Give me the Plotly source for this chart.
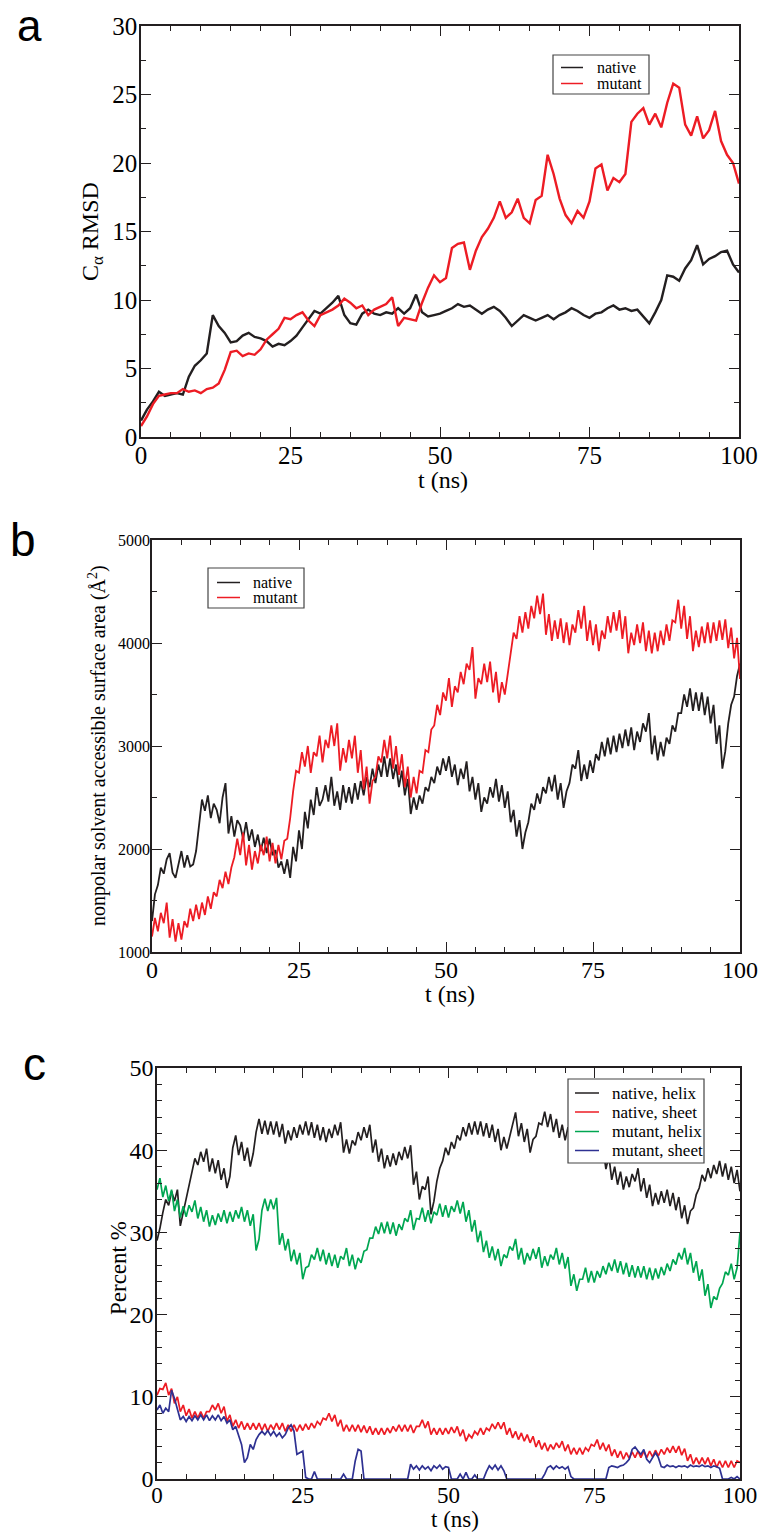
import plotly.graph_objects as go

# ---------------- data ----------------
# Panel a: C-alpha RMSD, 1 ns sampling (t = 0..100)
t_a = [i * 1.0 for i in range(101)]
native_rmsd = [
    1.2, 2.0, 2.6, 3.3, 3.0, 3.1, 3.2, 3.1, 4.4, 5.2,
    5.6, 6.1, 8.9, 8.1, 7.6, 6.9, 7.0, 7.4, 7.6, 7.3,
    7.2, 7.0, 6.6, 6.8, 6.7, 7.0, 7.4, 8.0, 8.6, 9.2,
    9.0, 9.4, 9.8, 10.3, 8.9, 8.3, 8.2, 9.0, 9.3, 9.0,
    8.9, 9.1, 9.0, 9.4, 9.0, 9.4, 10.4, 9.1, 8.8, 8.9,
    9.0, 9.2, 9.4, 9.7, 9.5, 9.6, 9.3, 9.0, 9.3, 9.5,
    9.2, 8.7, 8.1, 8.5, 8.9, 8.7, 8.5, 8.7, 8.9, 8.6,
    8.9, 9.1, 9.4, 9.2, 8.9, 8.7, 9.0, 9.1, 9.4, 9.6,
    9.3, 9.4, 9.2, 9.3, 8.8, 8.3, 9.1, 10.0, 11.8, 11.7,
    11.4, 12.3, 12.9, 14.0, 12.6, 13.0, 13.2, 13.5, 13.6, 12.6,
    12.0]
mutant_rmsd = [
    0.8, 1.5, 2.4, 3.0, 3.1, 3.2, 3.2, 3.5, 3.3, 3.4,
    3.2, 3.5, 3.6, 3.9, 4.9, 6.2, 6.3, 5.9, 6.1, 6.0,
    6.4, 7.1, 7.5, 7.9, 8.7, 8.6, 8.9, 9.1, 8.5, 8.1,
    8.9, 9.1, 9.3, 9.6, 10.1, 9.8, 9.4, 9.6, 8.9, 9.3,
    9.5, 9.7, 10.2, 8.1, 8.7, 8.6, 8.5, 9.8, 10.9, 11.8,
    11.3, 11.6, 13.8, 14.1, 14.2, 12.2, 13.6, 14.6, 15.2, 16.0,
    17.2, 16.0, 16.4, 17.4, 16.0, 15.6, 17.3, 17.6, 20.6, 19.2,
    17.4, 16.2, 15.6, 16.5, 16.0, 17.2, 19.6, 19.9, 18.0, 18.9,
    18.6, 19.2, 23.0, 23.6, 24.0, 22.8, 23.6, 22.6, 24.4, 25.8,
    25.5, 22.8, 22.0, 23.4, 21.8, 22.4, 23.8, 21.6, 20.6, 20.0,
    18.5]

# Panels b and c: 0.5 ns sampling (t = 0..100)
t_bc = [i * 0.5 for i in range(201)]
native_sasa = [
    1300, 1560, 1650, 1820, 1760, 1900, 1960, 1770, 1720, 1850,
    1980, 1820, 1940, 1830, 1850, 1980, 2250, 2480, 2370, 2520,
    2300, 2440, 2380, 2250, 2500, 2640, 2150, 2320, 2120, 2280,
    2230, 2100, 2260, 2080, 2190, 2020, 2140, 1980, 2110, 1960,
    2100, 1940, 1990, 1820, 1880, 1760, 1900, 1720, 2020, 1880,
    2180, 2000, 2360, 2200, 2480, 2330, 2600, 2420, 2480, 2620,
    2460, 2700, 2420, 2560, 2380, 2620, 2450, 2600, 2440, 2640,
    2480, 2660, 2520, 2700, 2600, 2780, 2640, 2820, 2700, 2900,
    2700, 2880, 2680, 2820, 2600, 2760, 2520, 2680, 2340, 2500,
    2380, 2520, 2440, 2600, 2560, 2700, 2640, 2800, 2720, 2880,
    2760, 2900, 2700, 2820, 2620, 2780, 2680, 2850, 2560, 2700,
    2480, 2640, 2360, 2500, 2440, 2600, 2500, 2680, 2460, 2620,
    2400, 2560, 2260, 2380, 2120, 2280, 2000, 2160, 2260, 2440,
    2380, 2540, 2440, 2600, 2540, 2700, 2560, 2720, 2480, 2640,
    2400, 2560, 2640, 2820, 2780, 2960, 2660, 2820, 2680, 2860,
    2740, 2920, 2860, 3040, 2900, 3080, 2920, 3100, 2940, 3120,
    2980, 3160, 3000, 3180, 2960, 3140, 3040, 3220, 3140, 3320,
    2920, 3100, 2860, 3040, 2900, 3080, 3020, 3200, 3140, 3320,
    3320, 3500, 3380, 3560, 3340, 3520, 3340, 3520, 3300, 3480,
    3220, 3400, 3020, 3200, 2780, 2950, 3220, 3400, 3480, 3680,
    3800]
mutant_sasa = [
    1150, 1330, 1200, 1380, 1280, 1480, 1140, 1320, 1100, 1280,
    1120, 1300, 1240, 1420, 1300, 1460, 1320, 1480, 1360, 1540,
    1420, 1580, 1540, 1700, 1620, 1780, 1660, 1820, 1920, 2100,
    1940, 2160, 1840, 2040, 1800, 1980, 1860, 2040, 1940, 2120,
    1880, 2060, 1860, 2040, 1900, 2080, 2100, 2300, 2560, 2760,
    2740, 2940, 2800, 3000, 2740, 2940, 2900, 3100, 2840, 3060,
    2980, 3200, 3000, 3220, 2760, 2980, 2840, 3060, 2880, 3100,
    2740, 2960, 2580, 2800, 2440, 2660, 2700, 2900, 2840, 3060,
    2880, 3100, 2780, 3000, 2720, 2920, 2600, 2800, 2500, 2700,
    2540, 2760, 2740, 2960, 2940, 3160, 3200, 3400, 3300, 3520,
    3440, 3660, 3380, 3580, 3520, 3720, 3600, 3800, 3740, 3960,
    3460, 3660, 3600, 3800, 3620, 3820, 3520, 3720, 3420, 3620,
    3500, 3700, 3900, 4100, 4040, 4260, 4100, 4300, 4140, 4360,
    4240, 4460, 4280, 4480, 4080, 4280, 4020, 4220, 4040, 4240,
    4000, 4200, 3980, 4180, 4100, 4320, 4140, 4360, 4020, 4220,
    3980, 4180, 3920, 4120, 4040, 4260, 4100, 4300, 4120, 4320,
    4040, 4260, 3900, 4100, 3980, 4180, 4000, 4200, 3920, 4120,
    3900, 4100, 3920, 4120, 3980, 4180, 4020, 4220, 4200, 4420,
    4140, 4360, 4040, 4260, 3920, 4120, 3960, 4160, 4000, 4200,
    4000, 4200, 4020, 4220, 4030, 4230, 3950, 4150, 3850, 4050,
    3650]
native_helix = [
    29.0, 30.5, 32.4, 34.0, 33.3, 35.0, 33.8, 35.2, 30.8, 32.4,
    34.4, 36.0, 37.4, 39.0, 38.2, 39.8, 38.6, 40.2, 37.4, 39.0,
    37.2, 38.8, 36.4, 37.8, 35.4, 36.8, 40.3, 41.8, 39.4, 41.0,
    38.7, 40.3, 38.0, 39.6, 42.2, 43.8, 42.0, 43.6, 41.9, 43.5,
    41.9, 43.5, 41.6, 43.2, 40.8, 42.4, 41.2, 42.8, 41.5, 43.1,
    41.9, 43.5, 41.8, 43.4, 41.5, 43.1, 41.2, 42.8, 41.0, 42.6,
    41.5, 43.1, 41.8, 43.4, 39.7, 41.3, 39.6, 41.2, 40.6, 42.2,
    41.2, 42.8, 41.5, 43.1, 39.7, 41.3, 38.6, 40.2, 37.8, 39.4,
    38.0, 39.6, 38.2, 39.8, 38.8, 40.4, 39.0, 40.6, 35.8, 37.4,
    34.0, 35.6, 35.2, 36.8, 32.2, 33.8, 36.2, 37.8, 38.7, 40.3,
    39.4, 41.0, 40.2, 41.8, 41.2, 42.8, 41.7, 43.3, 41.9, 43.5,
    41.9, 43.5, 41.7, 43.3, 41.5, 43.1, 41.0, 42.6, 40.0, 41.6,
    40.2, 41.8, 43.0, 44.6, 41.7, 43.3, 41.0, 42.6, 39.7, 41.3,
    41.7, 43.3, 43.1, 44.7, 42.8, 44.4, 42.2, 43.8, 41.5, 43.1,
    41.2, 42.8, 40.7, 42.3, 40.2, 41.8, 39.7, 41.3, 39.2, 40.8,
    39.2, 40.8, 38.7, 40.3, 37.7, 39.3, 36.4, 38.0, 35.8, 37.4,
    35.2, 36.8, 35.5, 37.1, 36.2, 37.8, 35.0, 36.6, 34.2, 35.8,
    33.2, 34.8, 33.4, 35.0, 33.6, 35.2, 33.2, 34.8, 32.7, 34.3,
    31.7, 33.3, 31.0, 32.6, 33.0, 34.6, 35.4, 37.0, 36.2, 37.8,
    36.6, 38.2, 37.1, 38.7, 36.8, 38.4, 36.4, 38.0, 36.0, 37.6,
    35.0]
native_sheet = [
    10.2, 11.0, 10.9, 11.7, 10.2, 11.0, 9.2, 10.0, 8.2, 9.0,
    7.7, 8.5, 7.4, 8.2, 7.4, 8.2, 7.4, 8.2, 8.2, 9.0,
    8.4, 9.2, 8.0, 8.8, 7.0, 7.8, 6.4, 7.2, 6.2, 7.0,
    6.0, 6.8, 6.0, 6.8, 6.0, 6.8, 5.9, 6.7, 5.8, 6.6,
    6.0, 6.8, 6.0, 6.8, 5.8, 6.6, 5.8, 6.6, 5.8, 6.6,
    5.9, 6.7, 6.0, 6.8, 6.2, 7.0, 6.6, 7.4, 7.2, 8.0,
    7.0, 7.8, 6.4, 7.2, 5.8, 6.6, 5.8, 6.6, 5.8, 6.6,
    5.7, 6.5, 5.6, 6.4, 5.4, 6.2, 5.4, 6.2, 5.4, 6.2,
    5.6, 6.4, 5.8, 6.6, 5.8, 6.6, 5.8, 6.6, 5.6, 6.4,
    6.4, 7.2, 6.2, 7.0, 5.4, 6.2, 5.4, 6.2, 5.4, 6.2,
    5.5, 6.3, 5.6, 6.4, 5.2, 6.0, 4.6, 5.4, 5.0, 5.8,
    5.4, 6.2, 5.4, 6.2, 5.9, 6.7, 6.1, 6.9, 6.1, 6.9,
    5.4, 6.2, 5.0, 5.8, 4.8, 5.6, 4.6, 5.4, 4.4, 5.2,
    3.9, 4.7, 3.6, 4.4, 3.4, 4.2, 3.6, 4.4, 3.8, 4.6,
    3.4, 4.2, 3.0, 3.8, 3.0, 3.8, 3.0, 3.8, 3.4, 4.2,
    4.0, 4.8, 3.6, 4.4, 3.4, 4.2, 2.8, 3.6, 2.6, 3.4,
    2.4, 3.2, 2.5, 3.3, 2.6, 3.4, 2.6, 3.4, 2.6, 3.4,
    2.7, 3.5, 2.8, 3.6, 3.0, 3.8, 3.2, 4.0, 3.2, 4.0,
    2.9, 3.7, 2.2, 3.0, 1.8, 2.6, 1.8, 2.6, 1.8, 2.6,
    1.6, 2.4, 1.4, 2.2, 1.4, 2.2, 1.4, 2.2, 1.4, 2.2,
    2.0]
mutant_helix = [
    35.2, 36.6, 34.3, 35.7, 33.8, 35.2, 32.6, 34.0, 31.8, 33.2,
    31.9, 33.3, 32.5, 33.9, 31.7, 33.1, 31.3, 32.7, 30.7, 32.1,
    30.9, 32.3, 31.3, 32.7, 31.1, 32.5, 31.3, 32.7, 31.7, 33.1,
    31.3, 32.7, 30.8, 32.2, 27.8, 29.2, 32.7, 34.1, 32.6, 34.0,
    32.8, 34.2, 28.5, 29.9, 27.8, 29.2, 26.5, 27.9, 26.1, 27.5,
    24.3, 25.7, 25.9, 27.3, 26.7, 28.1, 26.5, 27.9, 26.1, 27.5,
    25.9, 27.3, 25.7, 27.1, 26.7, 28.1, 25.9, 27.3, 25.5, 26.9,
    26.3, 27.7, 27.9, 29.3, 29.3, 30.7, 29.8, 31.2, 29.9, 31.3,
    29.8, 31.2, 29.6, 31.0, 30.3, 31.7, 31.3, 32.7, 30.3, 31.7,
    31.6, 33.0, 31.3, 32.7, 31.1, 32.5, 32.1, 33.5, 31.9, 33.3,
    31.8, 33.2, 32.5, 33.9, 32.3, 33.7, 31.3, 32.7, 30.1, 31.5,
    28.8, 30.2, 27.6, 29.0, 26.9, 28.3, 26.6, 28.0, 25.9, 27.3,
    26.9, 28.3, 27.8, 29.2, 26.7, 28.1, 26.1, 27.5, 26.6, 28.0,
    26.8, 28.2, 25.7, 27.1, 25.9, 27.3, 26.7, 28.1, 26.1, 27.5,
    25.6, 27.0, 23.5, 24.9, 22.9, 24.3, 24.3, 25.7, 23.9, 25.3,
    23.9, 25.3, 24.5, 25.9, 24.9, 26.3, 25.3, 26.7, 25.1, 26.5,
    24.9, 26.3, 24.6, 26.0, 24.5, 25.9, 24.5, 25.9, 24.3, 25.7,
    24.2, 25.6, 24.4, 25.8, 24.8, 26.2, 25.3, 26.7, 26.1, 27.5,
    26.7, 28.1, 26.1, 27.5, 25.1, 26.5, 24.1, 25.5, 22.3, 23.7,
    20.8, 22.2, 21.8, 23.2, 23.8, 25.2, 24.8, 26.2, 24.3, 25.7,
    30.0]
mutant_sheet = [
    8.4, 9.0, 8.0, 8.6, 8.2, 10.8, 9.8, 8.6, 7.2, 7.6,
    7.0, 7.6, 7.1, 7.7, 7.2, 7.8, 7.2, 7.8, 7.1, 7.7,
    7.2, 7.8, 7.1, 7.6, 6.8, 7.2, 6.0, 6.4, 5.4, 4.2,
    2.0, 2.6, 4.2, 3.6, 4.8, 5.4, 5.8, 5.4, 5.9, 5.3,
    5.8, 5.2, 5.6, 5.0, 5.4, 6.2, 6.6, 5.8, 3.0, 3.2,
    3.4, 0.2, 0.0, 0.0, 0.9, 0.0, 0.0, 0.0, 0.0, 0.0,
    0.0, 0.0, 0.0, 0.0, 0.6, 0.0, 0.0, 0.0, 2.2, 3.6,
    3.4, 0.0, 0.0, 0.0, 0.0, 0.0, 0.0, 0.0, 0.0, 0.0,
    0.0, 0.0, 0.0, 0.0, 0.0, 0.0, 0.0, 1.8, 1.2, 1.6,
    1.1, 1.6, 1.2, 1.5, 1.0, 1.6, 1.3, 1.7, 1.2, 1.5,
    1.4, 0.0, 0.0, 0.0, 0.6, 0.0, 0.8, 0.0, 0.0, 0.5,
    0.0, 0.0, 0.0, 0.9, 1.6, 1.2, 1.7, 1.1, 1.6, 1.0,
    0.0, 0.0, 0.0, 0.0, 0.0, 0.0, 0.0, 0.0, 0.0, 0.0,
    0.0, 0.0, 0.0, 0.6, 1.4, 1.6, 1.2, 1.6, 1.3, 1.5,
    1.2, 1.5, 0.3, 0.0, 0.0, 0.0, 0.0, 0.0, 0.0, 0.0,
    0.0, 0.0, 0.0, 0.0, 0.0, 1.4, 1.6, 1.5, 1.4, 1.6,
    1.7, 2.0, 2.4, 3.6, 3.9, 3.4, 3.0, 3.6, 2.4, 2.0,
    2.6, 3.2, 2.6, 1.5, 1.4, 1.7, 1.5, 1.6, 1.4, 1.6,
    1.5, 1.6, 1.4, 1.7, 1.5, 1.6, 1.5, 1.7, 1.5, 1.6,
    1.4, 1.6, 1.5, 1.3, 0.0, 0.0, 0.0, 0.2, 0.0, 0.3,
    0.0]

legend_a = ["native", "mutant"]
legend_b = ["native", "mutant"]
legend_c = ["native, helix", "native, sheet", "mutant, helix", "mutant, sheet"]

# ---------------- styling ----------------
# The page places the figure 8 px in from the top-left corner, so the figure is
# sized to fill the rest of the 767 x 1532 window.
OFF = 8
W, H = 767 - OFF, 1532 - OFF
BLACK = "#231f20"
RED = "#ed1c24"
GREEN = "#00a651"
BLUE = "#2e3192"
SERIF = "Liberation Serif"
SANS = "Liberation Sans"


def px(x):
    return (x - OFF) / W


def py(y):
    return 1 - (y - OFF) / H


fig = go.Figure()

panel_a = [(native_rmsd, BLACK), (mutant_rmsd, RED)]
for (vals, col), name in zip(panel_a, legend_a):
    fig.add_trace(go.Scatter(x=t_a, y=vals, mode="lines", name=name, showlegend=False,
                             line=dict(color=col, width=2.4), xaxis="x", yaxis="y"))

panel_b = [(native_sasa, BLACK), (mutant_sasa, RED)]
for (vals, col), name in zip(panel_b, legend_b):
    fig.add_trace(go.Scatter(x=t_bc, y=vals, mode="lines", name=name, showlegend=False,
                             line=dict(color=col, width=1.8), xaxis="x2", yaxis="y2"))

panel_c = [(native_helix, BLACK), (native_sheet, RED), (mutant_helix, GREEN), (mutant_sheet, BLUE)]
for (vals, col), name in zip(panel_c, legend_c):
    fig.add_trace(go.Scatter(x=t_bc, y=vals, mode="lines", name=name, showlegend=False,
                             line=dict(color=col, width=1.7), xaxis="x3", yaxis="y3"))


def axis(domain, rng, dtick, mdtick, anchor, fsize, letter):
    return dict(domain=domain, range=rng, dtick=dtick, tick0=rng[0], anchor=anchor,
                automargin=False,
                showline=True, linecolor=BLACK, linewidth=1.5, mirror="ticks",
                ticks="inside", ticklen=10, tickwidth=1.2, tickcolor=BLACK,
                ticklabelstandoff=-5 if letter == "x" else -3,
                minor=dict(dtick=mdtick, ticks="inside", ticklen=5, tickwidth=1.0,
                           tickcolor=BLACK, showgrid=False),
                showgrid=False, zeroline=False,
                tickfont=dict(family=SERIF, size=fsize, color="black"))


fig.update_layout(
    width=W, height=H,
    margin=dict(l=0, r=0, t=0, b=0, autoexpand=False),
    paper_bgcolor="white", plot_bgcolor="white",
    font=dict(family=SERIF, color="black"),
    showlegend=False,
    xaxis=axis([px(141), px(739)], [0, 100], 25, 5, "y", 25, "x"),
    yaxis=axis([py(437), py(26)], [0, 30], 5, 2.5, "x", 25, "y"),
    xaxis2=axis([px(152), px(740)], [0, 100], 25, 5, "y2", 24, "x"),
    yaxis2=axis([py(952), py(540)], [1000, 5000], 1000, 500, "x2", 16, "y"),
    xaxis3=axis([px(157), px(740)], [0, 100], 25, 5, "y3", 23, "x"),
    yaxis3=axis([py(1479), py(1068)], [0, 50], 10, 2, "x3", 24, "y"),
)

shapes = []
annotations = []


def legend_box(box, line_x, text_x, rows_y, names, colors, fsize):
    x0, x1, y0, y1 = box
    shapes.append(dict(type="rect", xref="paper", yref="paper",
                       x0=px(x0), x1=px(x1), y0=py(y1), y1=py(y0),
                       line=dict(color="#444444", width=1.2), fillcolor="white",
                       layer="above"))
    for yy, name, col in zip(rows_y, names, colors):
        shapes.append(dict(type="line", xref="paper", yref="paper",
                           x0=px(line_x[0]), x1=px(line_x[1]), y0=py(yy), y1=py(yy),
                           line=dict(color=col, width=1.5), layer="above"))
        annotations.append(dict(text=name, x=px(text_x), y=py(yy), xanchor="left",
                                yanchor="middle",
                                font=dict(family=SERIF, size=fsize, color="black")))


legend_box((553, 649, 55, 94), (561, 583), 595, [67.5, 83.5], legend_a, [BLACK, RED], 16)
legend_box((208, 304, 568, 608), (217, 240), 251, [582.5, 597.5], legend_b, [BLACK, RED], 16)
legend_box((568, 704, 1079, 1163), (575, 599), 610, [1093, 1112, 1131.5, 1150.5],
           legend_c, [BLACK, RED, GREEN, BLUE], 17)

annotations += [
    # panel letters
    dict(text="a", x=px(29), y=py(26), font=dict(family=SANS, size=44, color="black")),
    dict(text="b", x=px(23), y=py(540), font=dict(family=SANS, size=46, color="black")),
    dict(text="c", x=px(34), y=py(1064), font=dict(family=SANS, size=46, color="black")),
    # axis titles
    dict(text="t (ns)", x=px(443), y=py(480), font=dict(family=SERIF, size=24, color="black")),
    dict(text="C<sub>α</sub> RMSD", x=px(92), y=py(232), textangle=-90,
         font=dict(family=SERIF, size=24, color="black")),
    dict(text="t (ns)", x=px(450), y=py(994), font=dict(family=SERIF, size=24, color="black")),
    dict(text="nonpolar solvent accessible surface area (Å<sup>2</sup>)", x=px(97), y=py(746),
         textangle=-90, font=dict(family=SERIF, size=20, color="black")),
    dict(text="t (ns)", x=px(455), y=py(1519), font=dict(family=SERIF, size=23, color="black")),
    dict(text="Percent %", x=px(118), y=py(1268), textangle=-90,
         font=dict(family=SERIF, size=23, color="black")),
]
for a in annotations:
    a.setdefault("xanchor", "center")
    a.setdefault("yanchor", "middle")
    a.update(xref="paper", yref="paper", showarrow=False)

fig.update_layout(shapes=shapes, annotations=annotations)

fig.write_html("out.html")
